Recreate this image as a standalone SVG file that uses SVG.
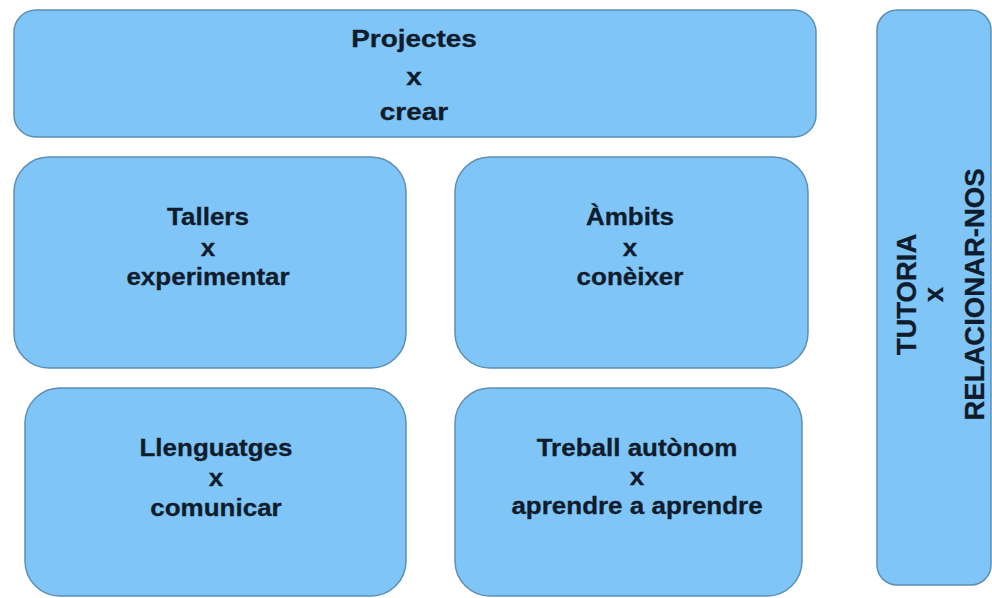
<svg xmlns="http://www.w3.org/2000/svg" width="992" height="598" viewBox="0 0 992 598">
<style>
.box{fill:#80c5f8;stroke:#5d8fb3;stroke-width:1.5}
.t{font-family:"Liberation Sans",Arial,sans-serif;font-weight:bold;font-size:23px;fill:#0f1c2b;stroke:#0f1c2b;stroke-width:0.3;text-anchor:middle}
.v{font-size:27.5px}
</style>
<rect width="992" height="598" fill="#ffffff"/>
<g id="projectes">
<rect class="box" x="14" y="10" width="802" height="127" rx="22"/>
<g transform="translate(414 0) scale(1.215 1)">
<text class="t" x="0" y="47">Projectes</text>
<text class="t" x="0" y="85">x</text>
<text class="t" x="0" y="120">crear</text>
</g>
</g>
<g id="tallers">
<rect class="box" x="14" y="157" width="392" height="211" rx="35"/>
<g transform="translate(208 0) scale(1.13 1)">
<text class="t" x="0" y="225">Tallers</text>
<text class="t" x="0" y="256">x</text>
<text class="t" x="0" y="285">experimentar</text>
</g>
</g>
<g id="ambits">
<rect class="box" x="455" y="157" width="353" height="211" rx="35"/>
<g transform="translate(630 0) scale(1.13 1)">
<text class="t" x="0" y="225">Àmbits</text>
<text class="t" x="0" y="256">x</text>
<text class="t" x="0" y="285">conèixer</text>
</g>
</g>
<g id="llenguatges">
<rect class="box" x="25" y="388" width="381" height="208" rx="35"/>
<g transform="translate(216 0) scale(1.13 1)">
<text class="t" x="0" y="456">Llenguatges</text>
<text class="t" x="0" y="486">x</text>
<text class="t" x="0" y="516">comunicar</text>
</g>
</g>
<g id="treball">
<rect class="box" x="455" y="388" width="347" height="208" rx="35"/>
<g transform="translate(637 0) scale(1.13 1)">
<text class="t" x="0" y="456">Treball autònom</text>
<text class="t" x="0" y="485">x</text>
<text class="t" x="0" y="514">aprendre a aprendre</text>
</g>
</g>
<g id="tutoria">
<rect class="box" x="877" y="10" width="114" height="575" rx="20"/>
<text class="t v" transform="translate(916 294.5) rotate(-90)">TUTORIA</text>
<text class="t v" transform="translate(943 294.5) rotate(-90)">x</text>
<text class="t v" transform="translate(984 294.5) rotate(-90)">RELACIONAR-NOS</text>
</g>
<g id="connectors"></g>
</svg>
